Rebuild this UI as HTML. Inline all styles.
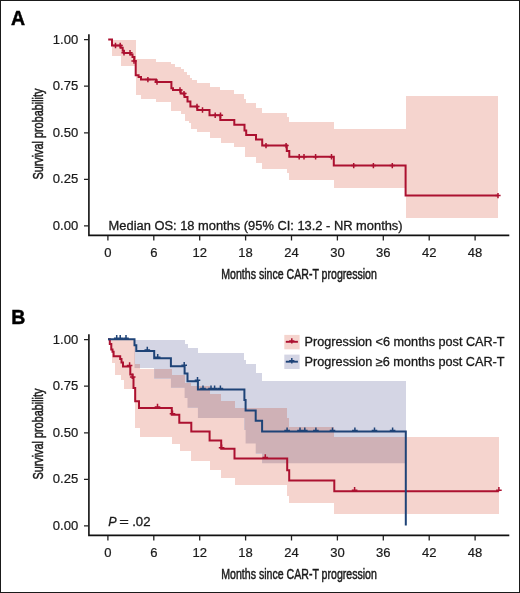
<!DOCTYPE html>
<html><head><meta charset="utf-8"><style>
html,body{margin:0;padding:0;background:#fff;}
body{width:520px;height:593px;overflow:hidden;}
svg{display:block;will-change:transform;}
.t{font-family:"Liberation Sans",sans-serif;font-size:12px;fill:#1a1a1a;stroke:#1a1a1a;stroke-width:0.3px;}
.it{font-style:italic;font-size:12.5px;}
.tk{font-family:"Liberation Sans",sans-serif;font-size:12.3px;fill:#1a1a1a;stroke:#1a1a1a;stroke-width:0.2px;}
.ti{font-family:"Liberation Sans",sans-serif;font-size:15.1px;fill:#1a1a1a;stroke:#1a1a1a;stroke-width:0.5px;}
.ti2{font-family:"Liberation Sans",sans-serif;font-size:14.8px;fill:#1a1a1a;stroke:#1a1a1a;stroke-width:0.5px;}
.pl{font-family:"Liberation Sans",sans-serif;font-size:19.5px;font-weight:bold;fill:#000;stroke:#000;stroke-width:0.45px;}
</style></head><body>
<svg width="520" height="593" viewBox="0 0 520 593"><rect x="0" y="0" width="520" height="593" fill="#fff"/><path d="M112.0,40.0H135.7V59.2H155.5V61.5H171.0V64.3H174.5V66.8H180.7V69.0H183.5V71.5H187.0V74.5H189.5V77.5H191.8V80.2H197.3V83.1H209.5V86.5H220.2V90.2H233.8V94.4H244.3V99.1H246.2V103.2H256.0V107.9H262.2V112.6H286.8V117.3H289.3V122.2H333.8V128.6H405.6V96.0H498.0V218.0H405.6V188.2H333.8V180.2H289.3V173.4H286.8V168.7H262.2V163.2H255.7V157.4H244.5V147.3H234.2V143.4H220.8V138.0H209.6V132.3H197.3V128.5H190.8V123.0H188.5V120.8H185.4V114.0H180.7V110.8H171.2V101.8H155.8V98.5H140.8V95.1H135.7V65.5H121.0V55.5H112.0Z" fill="rgb(245,212,206)" shape-rendering="crispEdges"/><defs><clipPath id="cb"><path d="M134.5,339.5H184.6V344.0H187.5V348.1H197.9V353.3H244.4V359.6H245.6V364.3H255.7V373.0H262.1V381.2H405.8V463.3H262.1V453.5H255.7V443.4H245.6V430.0H244.4V418.0H197.9V407.8H187.5V398.0H184.6V387.7H170.9V378.5H154.2V368.0H134.5Z"/></clipPath></defs><path d="M109.8,339.5H135.2V363.8H140.0V368.5H171.8V375.3H184.6V382.5H191.3V385.6H209.6V394.3H221.2V400.5H234.5V408.0H287.2V418.0H289.2V426.7H334.3V436.5H498.9V513.5H334.3V503.4H289.2V496.0H287.2V485.3H234.5V477.7H221.2V469.6H209.6V461.0H191.3V451.1H179.5V444.2H171.8V436.7H140.0V428.3H135.2V400.0H133.5V389.0H124.2V380.4H120.8V375.0H114.8V362.8H112.0V350.0H109.8Z" fill="rgb(245,212,206)" shape-rendering="crispEdges"/><path d="M134.5,339.5H184.6V344.0H187.5V348.1H197.9V353.3H244.4V359.6H245.6V364.3H255.7V373.0H262.1V381.2H405.8V463.3H262.1V453.5H255.7V443.4H245.6V430.0H244.4V418.0H197.9V407.8H187.5V398.0H184.6V387.7H170.9V378.5H154.2V368.0H134.5Z" fill="rgb(212,213,228)" shape-rendering="crispEdges"/><path d="M109.8,339.5H135.2V363.8H140.0V368.5H171.8V375.3H184.6V382.5H191.3V385.6H209.6V394.3H221.2V400.5H234.5V408.0H287.2V418.0H289.2V426.7H334.3V436.5H498.9V513.5H334.3V503.4H289.2V496.0H287.2V485.3H234.5V477.7H221.2V469.6H209.6V461.0H191.3V451.1H179.5V444.2H171.8V436.7H140.0V428.3H135.2V400.0H133.5V389.0H124.2V380.4H120.8V375.0H114.8V362.8H112.0V350.0H109.8Z" fill="rgb(207,177,182)" clip-path="url(#cb)" shape-rendering="crispEdges"/><path d="M88.9,34.3V235.4M88.1,235.4H509.3" stroke="#111" stroke-width="1.6" fill="none"/><path d="M84,39.7H88.5M84,86.2H88.5M84,132.8H88.5M84,179.3H88.5M84,225.8H88.5M107.9,236V240.4M153.8,236V240.4M199.7,236V240.4M245.6,236V240.4M291.5,236V240.4M337.4,236V240.4M383.3,236V240.4M429.2,236V240.4M475.1,236V240.4" stroke="#222" stroke-width="1.3" fill="none"/><text x="78.2" y="43.6" text-anchor="end" class="tk" textLength="25.38" lengthAdjust="spacingAndGlyphs">1.00</text><text x="78.2" y="90.1" text-anchor="end" class="tk" textLength="25.38" lengthAdjust="spacingAndGlyphs">0.75</text><text x="78.2" y="136.7" text-anchor="end" class="tk" textLength="25.38" lengthAdjust="spacingAndGlyphs">0.50</text><text x="78.2" y="183.2" text-anchor="end" class="tk" textLength="25.38" lengthAdjust="spacingAndGlyphs">0.25</text><text x="78.2" y="229.7" text-anchor="end" class="tk" textLength="25.38" lengthAdjust="spacingAndGlyphs">0.00</text><text x="107.9" y="256.7" text-anchor="middle" class="tk" textLength="7.25" lengthAdjust="spacingAndGlyphs">0</text><text x="153.8" y="256.7" text-anchor="middle" class="tk" textLength="7.25" lengthAdjust="spacingAndGlyphs">6</text><text x="199.7" y="256.7" text-anchor="middle" class="tk" textLength="14.50" lengthAdjust="spacingAndGlyphs">12</text><text x="245.6" y="256.7" text-anchor="middle" class="tk" textLength="14.50" lengthAdjust="spacingAndGlyphs">18</text><text x="291.5" y="256.7" text-anchor="middle" class="tk" textLength="14.50" lengthAdjust="spacingAndGlyphs">24</text><text x="337.4" y="256.7" text-anchor="middle" class="tk" textLength="14.50" lengthAdjust="spacingAndGlyphs">30</text><text x="383.3" y="256.7" text-anchor="middle" class="tk" textLength="14.50" lengthAdjust="spacingAndGlyphs">36</text><text x="429.2" y="256.7" text-anchor="middle" class="tk" textLength="14.50" lengthAdjust="spacingAndGlyphs">42</text><text x="475.1" y="256.7" text-anchor="middle" class="tk" textLength="14.50" lengthAdjust="spacingAndGlyphs">48</text><text x="221.3" y="278.5" class="ti" textLength="155.6" lengthAdjust="spacingAndGlyphs">Months since CAR-T progression</text><text transform="translate(43.4,179.6) rotate(-90)" x="0" y="0" class="ti2" textLength="91" lengthAdjust="spacingAndGlyphs">Survival probability</text><path d="M88.9,334.3V535.4M88.1,535.4H509.3" stroke="#111" stroke-width="1.6" fill="none"/><path d="M84,339.7H88.5M84,386.2H88.5M84,432.8H88.5M84,479.3H88.5M84,525.8H88.5M107.9,536V540.4M153.8,536V540.4M199.7,536V540.4M245.6,536V540.4M291.5,536V540.4M337.4,536V540.4M383.3,536V540.4M429.2,536V540.4M475.1,536V540.4" stroke="#222" stroke-width="1.3" fill="none"/><text x="78.2" y="343.6" text-anchor="end" class="tk" textLength="25.38" lengthAdjust="spacingAndGlyphs">1.00</text><text x="78.2" y="390.1" text-anchor="end" class="tk" textLength="25.38" lengthAdjust="spacingAndGlyphs">0.75</text><text x="78.2" y="436.7" text-anchor="end" class="tk" textLength="25.38" lengthAdjust="spacingAndGlyphs">0.50</text><text x="78.2" y="483.2" text-anchor="end" class="tk" textLength="25.38" lengthAdjust="spacingAndGlyphs">0.25</text><text x="78.2" y="529.7" text-anchor="end" class="tk" textLength="25.38" lengthAdjust="spacingAndGlyphs">0.00</text><text x="107.9" y="556.7" text-anchor="middle" class="tk" textLength="7.25" lengthAdjust="spacingAndGlyphs">0</text><text x="153.8" y="556.7" text-anchor="middle" class="tk" textLength="7.25" lengthAdjust="spacingAndGlyphs">6</text><text x="199.7" y="556.7" text-anchor="middle" class="tk" textLength="14.50" lengthAdjust="spacingAndGlyphs">12</text><text x="245.6" y="556.7" text-anchor="middle" class="tk" textLength="14.50" lengthAdjust="spacingAndGlyphs">18</text><text x="291.5" y="556.7" text-anchor="middle" class="tk" textLength="14.50" lengthAdjust="spacingAndGlyphs">24</text><text x="337.4" y="556.7" text-anchor="middle" class="tk" textLength="14.50" lengthAdjust="spacingAndGlyphs">30</text><text x="383.3" y="556.7" text-anchor="middle" class="tk" textLength="14.50" lengthAdjust="spacingAndGlyphs">36</text><text x="429.2" y="556.7" text-anchor="middle" class="tk" textLength="14.50" lengthAdjust="spacingAndGlyphs">42</text><text x="475.1" y="556.7" text-anchor="middle" class="tk" textLength="14.50" lengthAdjust="spacingAndGlyphs">48</text><text x="221.3" y="578.5" class="ti" textLength="155.6" lengthAdjust="spacingAndGlyphs">Months since CAR-T progression</text><text transform="translate(43.4,479.6) rotate(-90)" x="0" y="0" class="ti2" textLength="91" lengthAdjust="spacingAndGlyphs">Survival probability</text><path d="M108.2,39.6H112.0V45.5H120.7V47.8H122.7V50.7H123.9V53.0H130.5V54.4H132.5V57.0H134.4V61.0H135.7V75.3H138.6V77.0H141.0V79.6H156.0V82.0H171.4V88.3H173.0V90.0H180.7V93.6H184.5V97.1H187.5V101.6H190.4V106.5H197.3V110.0H209.5V115.2H220.3V119.9H234.3V124.8H244.5V130.4H246.2V135.0H256.0V139.6H262.2V145.6H286.8V151.0H289.3V156.7H333.8V165.6H405.6V195.6H498.0" stroke="#ac1130" stroke-width="2" fill="none"/><path d="M115.5,42.8V48.2M112.9,45.5H118.1M120.2,42.8V48.2M117.6,45.5H122.8M124.0,50.1V55.5M121.4,52.8H126.6M130.0,50.1V55.5M127.4,52.8H132.6M134.0,58.3V63.7M131.4,61.0H136.6M147.9,76.9V82.3M145.3,79.6H150.5M157.0,79.3V84.7M154.4,82.0H159.6M180.0,87.3V92.7M177.4,90.0H182.6M184.0,90.9V96.3M181.4,93.6H186.6M197.0,103.8V109.2M194.4,106.5H199.6M202.5,107.3V112.7M199.9,110.0H205.1M215.2,112.5V117.9M212.6,115.2H217.8M220.5,112.5V117.9M217.9,115.2H223.1M266.0,142.9V148.3M263.4,145.6H268.6M286.1,142.9V148.3M283.5,145.6H288.7M299.2,154.0V159.4M296.6,156.7H301.8M304.0,154.0V159.4M301.4,156.7H306.6M315.6,154.0V159.4M313.0,156.7H318.2M331.5,154.0V159.4M328.9,156.7H334.1M353.7,162.9V168.3M351.1,165.6H356.3M373.4,162.9V168.3M370.8,165.6H376.0M392.3,162.9V168.3M389.7,165.6H394.9M498.0,192.9V198.3M495.4,195.6H500.6" stroke="#ac1130" stroke-width="1.5" fill="none"/><path d="M108.0,339.2H109.8V344.0H111.3V349.4H112.5V351.7H113.6V356.3H120.2V359.0H121.5V362.5H123.0V366.5H130.3V374.5H132.5V378.0H133.5V388.0H135.2V401.3H139.0V407.9H171.8V414.8H179.3V422.7H191.3V431.5H209.6V440.5H221.2V448.8H234.5V458.5H287.2V470.3H289.2V480.6H334.3V491.2H498.9" stroke="#ac1130" stroke-width="2" fill="none"/><path d="M129.6,362.3V366.5M126.8,365.5H132.4M132.7,373.8V378.0M129.9,377.0H135.5M157.5,403.7V407.9M154.7,406.9H160.3M172.5,410.6V414.8M169.7,413.8H175.3M221.6,444.6V448.8M218.8,447.8H224.4M265.3,454.3V458.5M262.5,457.5H268.1M354.6,487.0V491.2M351.8,490.2H357.4M498.9,487.0V491.2M496.1,490.2H501.7" stroke="#ac1130" stroke-width="1.5" fill="none"/><path d="M108.0,339.2H134.5V345.3H136.3V350.9H154.2V358.3H170.9V366.2H184.6V373.5H187.5V381.3H197.9V389.6H244.4V400.1H245.6V410.5H255.7V420.8H262.1V431.6H405.8V525.4H405.8" stroke="#1e4377" stroke-width="2" fill="none"/><path d="M116.7,335.0V339.2M113.9,338.2H119.5M120.2,335.0V339.2M117.4,338.2H123.0M126.0,335.0V339.2M123.2,338.2H128.8M147.3,346.7V350.9M144.5,349.9H150.1M157.7,354.1V358.3M154.9,357.3H160.5M184.2,362.0V366.2M181.4,365.2H187.0M197.5,377.1V381.3M194.7,380.3H200.3M203.0,385.4V389.6M200.2,388.6H205.8M211.0,385.4V389.6M208.2,388.6H213.8M214.6,385.4V389.6M211.8,388.6H217.4M220.4,385.4V389.6M217.6,388.6H223.2M287.1,427.4V431.6M284.3,430.6H289.9M300.0,427.4V431.6M297.2,430.6H302.8M304.8,427.4V431.6M302.0,430.6H307.6M315.9,427.4V431.6M313.1,430.6H318.7M332.5,427.4V431.6M329.7,430.6H335.3M354.9,427.4V431.6M352.1,430.6H357.7M374.5,427.4V431.6M371.7,430.6H377.3M392.6,427.4V431.6M389.8,430.6H395.4" stroke="#1e4377" stroke-width="1.5" fill="none"/><text x="108.6" y="230.0" class="t" textLength="294" lengthAdjust="spacingAndGlyphs">Median OS: 18 months (95% CI: 13.2 - NR months)</text><text x="108.3" y="525.9" class="t it">P</text><text x="119.3" y="525.9" class="t" textLength="9.6" lengthAdjust="spacingAndGlyphs">=</text><text x="132.2" y="525.9" class="t" textLength="18.3" lengthAdjust="spacingAndGlyphs">.02</text><rect x="284.3" y="334.9" width="15.3" height="14.4" fill="rgb(245,212,206)"/><rect x="284.3" y="354.6" width="15.3" height="14.4" fill="rgb(212,213,228)"/><path d="M285.8,341.8H297.9" stroke="#ac1130" stroke-width="1.9" fill="none"/><path d="M291.8,338.2V343.6M289.2,340.9H294.4" stroke="#ac1130" stroke-width="1.5" fill="none"/><path d="M285.8,361.7H297.9" stroke="#1e4377" stroke-width="1.9" fill="none"/><path d="M291.8,358.1V363.5M289.2,360.8H294.4" stroke="#1e4377" stroke-width="1.5" fill="none"/><text x="304.6" y="345.8" class="t" textLength="200" lengthAdjust="spacingAndGlyphs">Progression &lt;6 months post CAR-T</text><text x="304.6" y="365.6" class="t" textLength="200" lengthAdjust="spacingAndGlyphs">Progression ≥6 months post CAR-T</text><text x="11.1" y="24.8" class="pl">A</text><text x="11.3" y="324.3" class="pl">B</text><rect x="0.5" y="0.5" width="519" height="592" fill="none" stroke="#1a1a1a" stroke-width="1"/></svg>
</body></html>
